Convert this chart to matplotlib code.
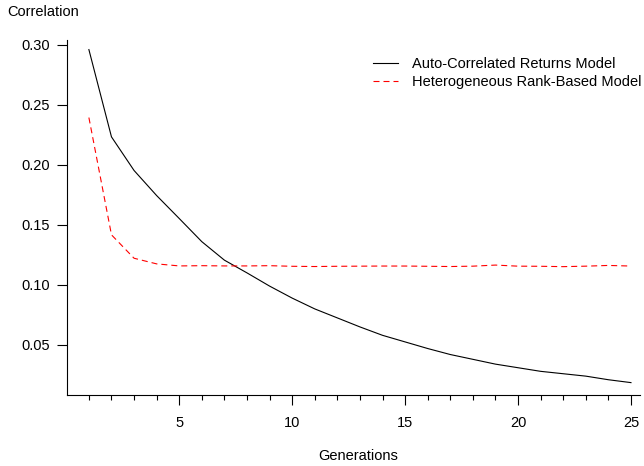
import numpy as np
import matplotlib.pyplot as plt

plt.rcParams['font.family'] = ['Liberation Sans', 'DejaVu Sans']

# mean correlation per generation for both models
generations = list(range(1, 26))
auto_corr = [0.296, 0.2233, 0.1953, 0.1744, 0.1553, 0.136, 0.1206, 0.110, 0.099,
             0.089, 0.080, 0.0725, 0.065, 0.058, 0.0525, 0.047, 0.042, 0.038,
             0.034, 0.031, 0.028, 0.026, 0.024, 0.021, 0.0186]
rank_based = [0.2394, 0.1417, 0.1222, 0.1175, 0.1158, 0.1160, 0.1158, 0.1158,
              0.1160, 0.1155, 0.1153, 0.1155, 0.1156, 0.1157, 0.1157, 0.1155,
              0.1153, 0.1156, 0.1165, 0.1156, 0.1155, 0.1152, 0.1156, 0.1162,
              0.1157]
y_ticks = [0.05, 0.10, 0.15, 0.20, 0.25, 0.30]
x_labels = [5, 10, 15, 20, 25]

FS = 10.5

fig = plt.figure(figsize=(6.44, 4.66), dpi=100)
ax = fig.add_axes([0.104, 0.1524, 0.8898, 0.7618])

ax.plot(generations, auto_corr, color='black', lw=0.8,
        label='Auto-Correlated Returns Model')
ax.plot(generations, rank_based, color='red', lw=0.8, dashes=(5.4, 3.6),
        label='Heterogeneous Rank-Based Model')

ax.set_xlim(0.03, 25.4)
ax.set_ylim(0.0083, 0.304)

for s in ['top', 'right']:
    ax.spines[s].set_visible(False)
for s in ['left', 'bottom']:
    ax.spines[s].set_linewidth(0.8)

ax.set_xticks(x_labels)
ax.set_xticklabels([str(v) for v in x_labels])
ax.set_xticks(generations, minor=True)
ax.set_yticks(y_ticks)
ax.set_yticklabels(['%.2f' % v for v in y_ticks])
ax.tick_params(axis='x', which='major', length=7.2, width=0.8, pad=8.0, labelsize=FS)
ax.tick_params(axis='x', which='minor', length=3.6, width=0.8)
ax.tick_params(axis='y', which='major', length=7.2, width=0.8, pad=4.8, labelsize=FS)

fig.text(0.012, 0.974, 'Correlation', fontsize=FS, ha='left', va='center')
fig.text(0.556, 0.0215, 'Generations', fontsize=FS, ha='center', va='center')

ax.legend(loc='upper left', bbox_to_anchor=(0.5232, 0.968), frameon=False,
          fontsize=FS, handlelength=1.71, handletextpad=0.96, labelspacing=0.25,
          borderaxespad=0)

fig.savefig('out.png', dpi=100)
